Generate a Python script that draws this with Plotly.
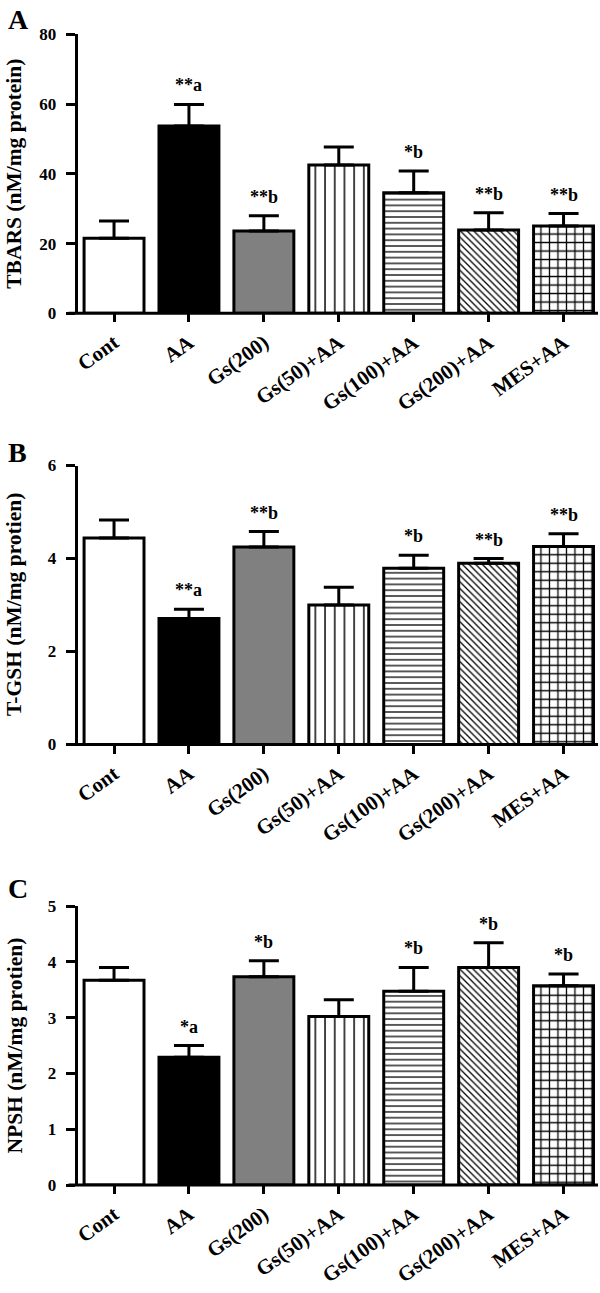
import plotly.graph_objects as go

categories = ["Cont", "AA", "Gs(200)", "Gs(50)+AA", "Gs(100)+AA", "Gs(200)+AA", "MES+AA"]

tbars_mean = [21.5, 53.7, 23.6, 42.5, 34.6, 23.9, 25.0]
tbars_err = [5.0, 6.2, 4.4, 5.2, 6.2, 4.9, 3.6]
tbars_sig = ["", "**a", "**b", "", "*b", "**b", "**b"]

tgsh_mean = [4.44, 2.71, 4.25, 3.00, 3.79, 3.90, 4.26]
tgsh_err = [0.39, 0.20, 0.33, 0.38, 0.28, 0.10, 0.27]
tgsh_sig = ["", "**a", "**b", "", "*b", "**b", "**b"]

npsh_mean = [3.67, 2.29, 3.73, 3.02, 3.47, 3.90, 3.57]
npsh_err = [0.23, 0.21, 0.29, 0.30, 0.43, 0.44, 0.21]
npsh_sig = ["", "*a", "*b", "", "*b", "*b", "*b"]

panels = [
    dict(letter="A", title="TBARS (nM/mg protein)", mean=tbars_mean, err=tbars_err,
         sig=tbars_sig, ymax=80, ticks=[0, 20, 40, 60, 80]),
    dict(letter="B", title="T-GSH (nM/mg protien)", mean=tgsh_mean, err=tgsh_err,
         sig=tgsh_sig, ymax=6, ticks=[0, 2, 4, 6]),
    dict(letter="C", title="NPSH (nM/mg protien)", mean=npsh_mean, err=npsh_err,
         sig=npsh_sig, ymax=5, ticks=[0, 1, 2, 3, 4, 5]),
]

# styles (patterned bars use black as the line colour on a transparent/white ground)
bar_colors = ["white", "black", "#808080", "black", "black", "black", "black"]
pat_shapes = ["", "", "", "|", "-", "\\", "+"]
pat_sizes = [8, 8, 8, 9.7, 5.8, 4.7, 8.5]
pat_solid = [0.2, 0.2, 0.2, 0.15, 0.22, 0.28, 0.28]

W, H = 600, 1293
FONT = "Liberation Serif"
plot_tops = [34.3, 465.5, 906.0]
PLOT_H = 279.0
letter_y = [19.0, 452.0, 888.0]
X_LEFT, X_RIGHT = 77.7, 598.0

fig = go.Figure()
layout = dict(
    width=W, height=H,
    margin=dict(l=0, r=0, t=0, b=0),
    plot_bgcolor="white", paper_bgcolor="white",
    font=dict(family=FONT, color="black"),
    showlegend=False, barmode="overlay",
    annotations=[], shapes=[],
)

for k, p in enumerate(panels):
    sfx = "" if k == 0 else str(k + 1)
    xa, ya = "x" + sfx, "y" + sfx
    top = plot_tops[k]
    bot = top + PLOT_H
    ydom = [1 - bot / H, 1 - top / H]

    fig.add_trace(go.Bar(
        x=categories, y=p["mean"], xaxis=xa, yaxis=ya, width=0.8,
        marker=dict(
            color=bar_colors,
            line=dict(color="black", width=3),
            pattern=dict(shape=pat_shapes, size=pat_sizes, solidity=pat_solid,
                         fillmode="replace"),
        ),
        error_y=dict(type="data", symmetric=False, array=p["err"],
                     arrayminus=[0] * len(p["err"]), color="black",
                     thickness=3, width=15),
        hoverinfo="skip",
    ))

    layout["xaxis" + sfx] = dict(
        domain=[X_LEFT / W, X_RIGHT / W], anchor=ya, type="category",
        range=[-0.485, 6.46], showline=False, showgrid=False, zeroline=False,
        automargin=False,
        ticks="outside", ticklen=8, tickwidth=3, tickcolor="black",
        tickangle=-36, tickfont=dict(family=FONT, size=21, weight="bold", color="black"),
    )
    layout["yaxis" + sfx] = dict(
        domain=ydom, anchor=xa, range=[0, p["ymax"]], tickvals=p["ticks"],
        showline=True, linewidth=3, linecolor="black", showgrid=False, zeroline=False,
        automargin=False,
        ticks="outside", ticklen=9, tickwidth=3, tickcolor="black",
        tickfont=dict(family=FONT, size=17, weight="bold", color="black"),
        ticklabelstandoff=6,
    )

    # x-axis baseline extending slightly left of the y axis
    layout["shapes"].append(dict(
        type="line", xref=xa + " domain", yref=ya + " domain",
        x0=-(X_LEFT - 68.5) / (X_RIGHT - X_LEFT), x1=1.0, y0=0, y1=0,
        line=dict(color="black", width=3),
    ))

    # significance labels
    for i, s in enumerate(p["sig"]):
        if s:
            layout["annotations"].append(dict(
                x=categories[i], y=p["mean"][i] + p["err"][i], xref=xa, yref=ya,
                text=s, showarrow=False, yanchor="bottom", xanchor="center", yshift=7,
                font=dict(family=FONT, size=18, weight="bold", color="black"),
            ))

    # y title
    layout["annotations"].append(dict(
        x=14 / W, y=1 - (top + PLOT_H / 2) / H, xref="paper", yref="paper",
        text=p["title"], textangle=-90, showarrow=False,
        xanchor="center", yanchor="middle",
        font=dict(family=FONT, size=21.5, weight="bold", color="black"),
    ))

    # panel letter
    layout["annotations"].append(dict(
        x=6 / W, y=1 - letter_y[k] / H, xref="paper", yref="paper",
        text=p["letter"], showarrow=False, xanchor="left", yanchor="middle",
        font=dict(family=FONT, size=28, weight="bold", color="black"),
    ))

fig.update_layout(**layout)
fig.write_html(
    "out.html",
    config={"displayModeBar": False},
    post_script="document.body.style.margin='0';document.body.style.overflow='hidden';",
)
